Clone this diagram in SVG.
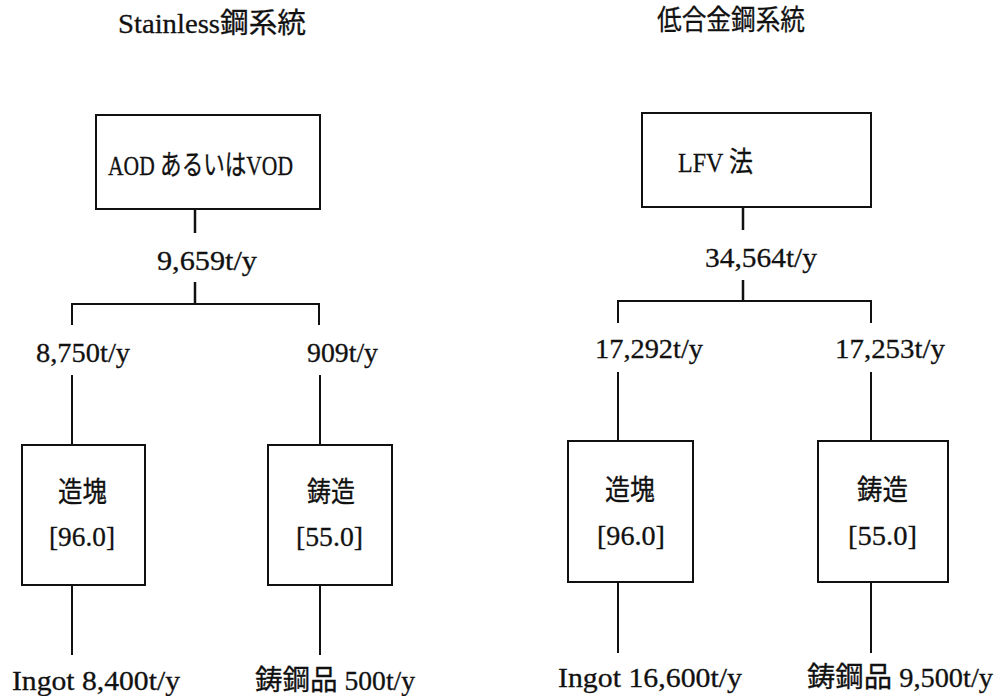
<svg xmlns="http://www.w3.org/2000/svg" width="1001" height="696" viewBox="0 0 1001 696">
<style>
.t{font-family:"Liberation Serif","Noto Sans CJK JP",serif;font-size:28px;fill:#111;stroke:#111;stroke-width:0.3;}
.box{fill:#fff;stroke:#111;stroke-width:2;}
.ln{stroke:#111;stroke-width:2;fill:none;}
.lnb{stroke:#111;stroke-width:2.5;fill:none;}
</style>
<rect width="1001" height="696" fill="#fff"/>
<g id="titles">
<text class="t" x="118" y="33" textLength="188" lengthAdjust="spacingAndGlyphs">Stainless鋼系統</text>
<text class="t" x="657" y="30" textLength="148" lengthAdjust="spacingAndGlyphs">低合金鋼系統</text>
</g>
<g id="connectors">
<path class="lnb" d="M195 209V233M195 282V304"/>
<path class="ln" d="M72 325V304H319V325"/>
<path class="ln" d="M72 375V445M320 375V445M72 585V655M320 585V655"/>
<path class="lnb" d="M743 207V230M743 280V301"/>
<path class="ln" d="M618 323V301H871V323"/>
<path class="ln" d="M618 372V441M871 372V441M618 582V653M871 582V653"/>
</g>
<g id="flow-labels">
<text class="t" x="157" y="270" textLength="100" lengthAdjust="spacingAndGlyphs">9,659t/y</text>
<text class="t" x="705" y="267" textLength="112" lengthAdjust="spacingAndGlyphs">34,564t/y</text>
<text class="t" x="36" y="362" textLength="94" lengthAdjust="spacingAndGlyphs">8,750t/y</text>
<text class="t" x="307" y="362" textLength="71" lengthAdjust="spacingAndGlyphs">909t/y</text>
<text class="t" x="595" y="358" textLength="108" lengthAdjust="spacingAndGlyphs">17,292t/y</text>
<text class="t" x="835" y="358" textLength="110" lengthAdjust="spacingAndGlyphs">17,253t/y</text>
</g>
<g id="aod">
<rect class="box" x="96" y="115" width="224" height="94"/>
<text class="t" x="108" y="175" textLength="185" lengthAdjust="spacingAndGlyphs">AOD あるいはVOD</text>
</g>
<g id="lfv">
<rect class="box" x="642" y="113" width="229" height="94"/>
<text class="t" x="678" y="172" textLength="75" lengthAdjust="spacingAndGlyphs">LFV 法</text>
</g>
<g id="ingot-left">
<rect class="box" x="22" y="445" width="123" height="140"/>
<text class="t" x="58" y="502" textLength="49" lengthAdjust="spacingAndGlyphs">造塊</text>
<text class="t" x="49" y="546" textLength="66" lengthAdjust="spacingAndGlyphs">[96.0]</text>
</g>
<g id="casting-left">
<rect class="box" x="268" y="445" width="124" height="140"/>
<text class="t" x="307" y="502" textLength="48" lengthAdjust="spacingAndGlyphs">鋳造</text>
<text class="t" x="296" y="546" textLength="67" lengthAdjust="spacingAndGlyphs">[55.0]</text>
</g>
<g id="ingot-right">
<rect class="box" x="568" y="441" width="125" height="141"/>
<text class="t" x="605" y="500" textLength="50" lengthAdjust="spacingAndGlyphs">造塊</text>
<text class="t" x="597" y="545" textLength="68" lengthAdjust="spacingAndGlyphs">[96.0]</text>
</g>
<g id="casting-right">
<rect class="box" x="818" y="441" width="130" height="141"/>
<text class="t" x="857" y="500" textLength="51" lengthAdjust="spacingAndGlyphs">鋳造</text>
<text class="t" x="848" y="545" textLength="69" lengthAdjust="spacingAndGlyphs">[55.0]</text>
</g>
<g id="outputs">
<text class="t" x="12" y="690" textLength="168" lengthAdjust="spacingAndGlyphs">Ingot 8,400t/y</text>
<text class="t" x="255" y="690" textLength="160" lengthAdjust="spacingAndGlyphs">鋳鋼品 500t/y</text>
<text class="t" x="558" y="687" textLength="184" lengthAdjust="spacingAndGlyphs">Ingot 16,600t/y</text>
<text class="t" x="807" y="687" textLength="186" lengthAdjust="spacingAndGlyphs">鋳鋼品 9,500t/y</text>
</g>
</svg>
